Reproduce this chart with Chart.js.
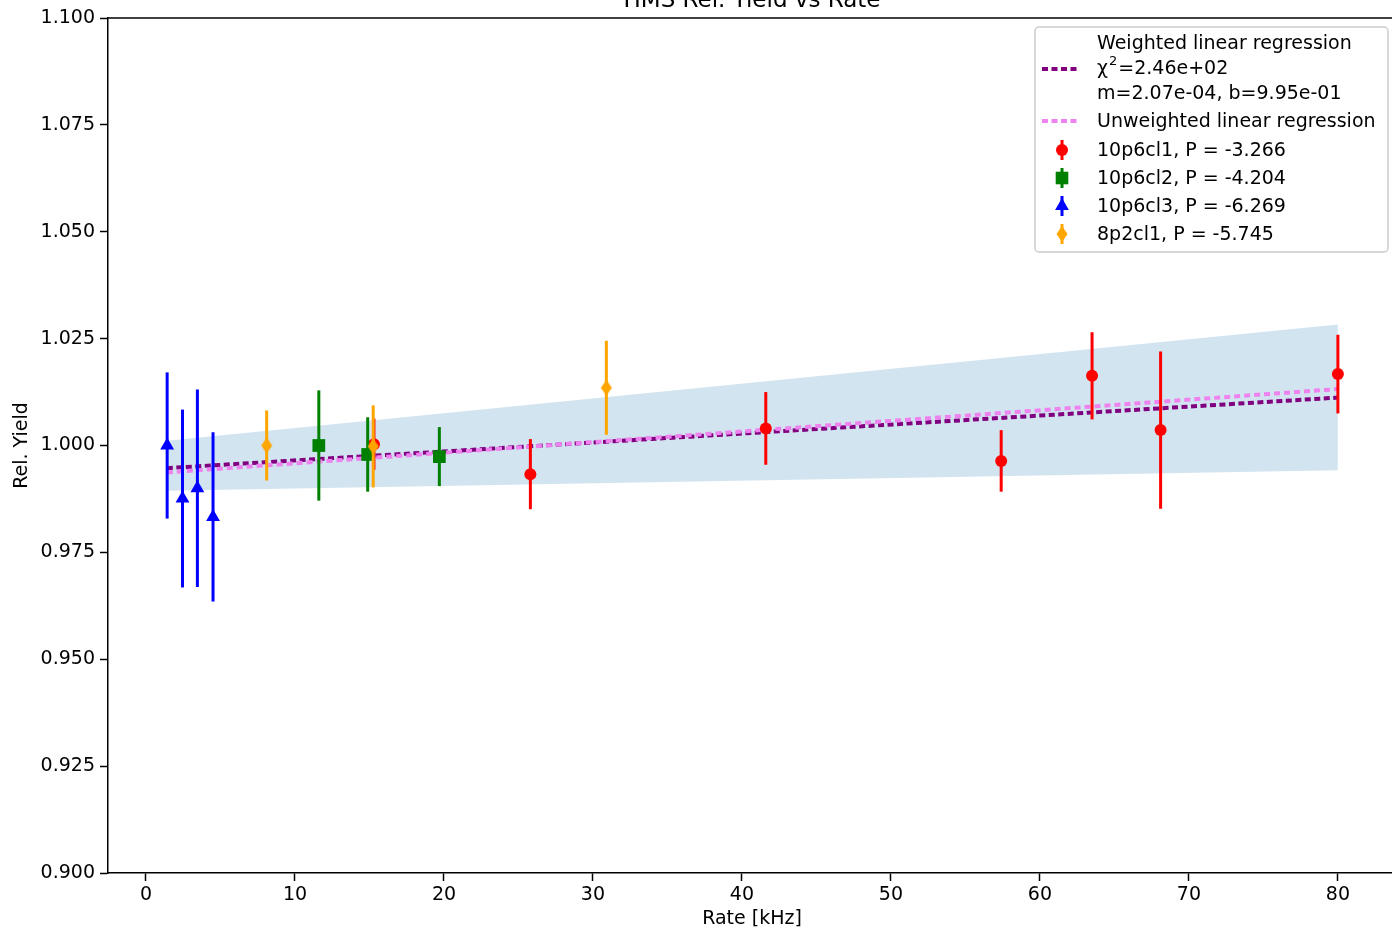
<!DOCTYPE html>
<html>
<head>
<meta charset="utf-8">
<title>HMS Rel. Yield vs Rate</title>
<script src="https://cdn.jsdelivr.net/npm/chart.js@4.4.1/dist/chart.umd.min.js"></script>
<style>
  html, body { margin: 0; padding: 0; overflow: hidden; background: #fff; }
  #wrap { width: 1392px; height: 930px; overflow: hidden; }
</style>
</head>
<body>
<div id="wrap"><canvas id="yieldChart" width="1405" height="930"></canvas></div>
<script>
// --- data ---
const rateRed = [15.3, 25.8, 41.6, 57.4, 63.5, 68.1, 80.0];
const yieldRed = [1.0003, 0.9933, 1.0040, 0.9964, 1.0163, 1.0036, 1.0167];
const errRed = [0.0060, 0.0082, 0.0085, 0.0072, 0.0102, 0.0184, 0.0092];

const rateGreen = [11.6, 14.88, 19.69];
const yieldGreen = [1.0000, 0.9979, 0.9974];
const errGreen = [0.0129, 0.0087, 0.0069];

const rateBlue = [1.42, 2.45, 3.45, 4.5];
const yieldBlue = [1.0000, 0.9876, 0.9900, 0.9833];
const errBlue = [0.0171, 0.0208, 0.0231, 0.0198];

const rateOrange = [8.1, 15.25, 30.9];
const yieldOrange = [1.0000, 0.9998, 1.0135];
const errOrange = [0.0082, 0.0096, 0.0110];

const fitRate = [1.4, 80.0];
const weightedFit = [0.9947, 1.0112];
const unweightedFit = [0.9937, 1.0132];
const bandUpper = [1.0011, 1.0283];
const bandLower = [0.9894, 0.9942];

const xTicks = [0, 10, 20, 30, 40, 50, 60, 70, 80];

const seriesLabels = ['10p6cl1, P = -3.266', '10p6cl2, P = -4.204', '10p6cl3, P = -6.269', '8p2cl1, P = -5.745'];

function pts(xs, ys) {
    return xs.map((x, i) => ({ x: x, y: ys[i] }));
}

// thin diamond marker like matplotlib 'd'
function thinDiamond(color) {
    const c = document.createElement('canvas');
    c.width = 12; c.height = 16;
    const g = c.getContext('2d');
    g.fillStyle = color;
    g.beginPath();
    g.moveTo(6, 0); g.lineTo(11.5, 8); g.lineTo(6, 16); g.lineTo(0.5, 8);
    g.closePath(); g.fill();
    return c;
}

function drawMarker(ctx, kind, x, y, color) {
    ctx.fillStyle = color;
    ctx.beginPath();
    if (kind === 'circle') {
        ctx.arc(x, y, 6, 0, Math.PI * 2);
    } else if (kind === 'rect') {
        ctx.rect(x - 6.3, y - 6.3, 12.6, 12.6);
    } else if (kind === 'triangle') {
        ctx.moveTo(x, y - 8); ctx.lineTo(x + 6.9, y + 4); ctx.lineTo(x - 6.9, y + 4);
    } else {
        ctx.moveTo(x, y - 8); ctx.lineTo(x + 5.5, y); ctx.lineTo(x, y + 8); ctx.lineTo(x - 5.5, y);
    }
    ctx.closePath();
    ctx.fill();
}

const RED = '#ff0000', GREEN = '#008000', BLUE = '#0000ff', ORANGE = '#ffa500';
const PURPLE = '#800080', VIOLET = '#ee82ee';

Chart.defaults.font.family = "'DejaVu Sans', sans-serif";
Chart.defaults.font.size = 19;
Chart.defaults.color = '#000';

// vertical error bars, drawn under each series' markers
const errorBars = {
    id: 'errorBars',
    beforeDatasetDraw(chart, args) {
        const ds = chart.data.datasets[args.index];
        if (!ds.errors) return;
        const xs = chart.scales.x, ys = chart.scales.y, ctx = chart.ctx;
        ctx.save();
        ctx.strokeStyle = ds.borderColor;
        ctx.lineWidth = 3;
        ds.data.forEach((p, i) => {
            const px = xs.getPixelForValue(p.x);
            ctx.beginPath();
            ctx.moveTo(px, ys.getPixelForValue(p.y - ds.errors[i]));
            ctx.lineTo(px, ys.getPixelForValue(p.y + ds.errors[i]));
            ctx.stroke();
        });
        ctx.restore();
    }
};

// top frame line, title, axis titles, legend
const decorations = {
    id: 'decorations',
    afterDraw(chart) {
        const ctx = chart.ctx, a = chart.chartArea;
        ctx.save();
        ctx.strokeStyle = '#000';
        ctx.lineWidth = 1.5;
        ctx.beginPath();
        ctx.moveTo(a.left, a.top);
        ctx.lineTo(a.right + 10, a.top);
        ctx.stroke();

        ctx.fillStyle = '#000';
        ctx.font = "23px 'DejaVu Sans'";
        ctx.textAlign = 'center';
        ctx.textBaseline = 'alphabetic';
        ctx.fillText('HMS Rel. Yield vs Rate', (a.left + a.right) / 2, 7);

        ctx.font = "19px 'DejaVu Sans'";
        ctx.textBaseline = 'middle';
        ctx.fillText('Rate [kHz]', (a.left + a.right) / 2, 919);
        ctx.save();
        ctx.translate(22, (a.top + a.bottom) / 2);
        ctx.rotate(-Math.PI / 2);
        ctx.fillText('Rel. Yield', 0, 0);
        ctx.restore();

        // legend box
        ctx.fillStyle = 'rgba(255,255,255,0.8)';
        ctx.strokeStyle = '#cccccc';
        ctx.lineWidth = 1.5;
        ctx.beginPath();
        ctx.roundRect(1035, 27, 353, 225, 4);
        ctx.fill();
        ctx.stroke();

        const tx = 1097;
        ctx.textAlign = 'left';
        ctx.fillStyle = '#000';
        ctx.fillText('Weighted linear regression', tx, 44);
        let cx = tx;
        ctx.fillText('\u03c7', cx, 69);
        cx += ctx.measureText('\u03c7').width + 1;
        ctx.font = "13px 'DejaVu Sans'";
        ctx.fillText('2', cx, 62);
        cx += ctx.measureText('2').width + 1;
        ctx.font = "19px 'DejaVu Sans'";
        ctx.fillText('=2.46e+02', cx, 69);
        ctx.fillText('m=2.07e-04, b=9.95e-01', tx, 94);
        ctx.fillText('Unweighted linear regression', tx, 122);

        ctx.lineWidth = 4;
        ctx.setLineDash([6, 3.5]);
        ctx.strokeStyle = PURPLE;
        ctx.beginPath(); ctx.moveTo(1042, 69); ctx.lineTo(1078, 69); ctx.stroke();
        ctx.strokeStyle = VIOLET;
        ctx.beginPath(); ctx.moveTo(1042, 121); ctx.lineTo(1078, 121); ctx.stroke();
        ctx.setLineDash([]);

        const kinds = ['circle', 'rect', 'triangle', 'diamond'];
        const cols = [RED, GREEN, BLUE, ORANGE];
        const rowY = [150, 178, 206, 234];
        kinds.forEach((k, i) => {
            ctx.strokeStyle = cols[i];
            ctx.lineWidth = 3;
            ctx.beginPath();
            ctx.moveTo(1062, rowY[i] - 10); ctx.lineTo(1062, rowY[i] + 10);
            ctx.stroke();
            drawMarker(ctx, k, 1062, rowY[i], cols[i]);
            ctx.fillStyle = '#000';
            ctx.fillText(seriesLabels[i], tx, rowY[i] + 1);
        });
        ctx.restore();
    }
};

const ctx = document.getElementById('yieldChart').getContext('2d');

const yieldChart = new Chart(ctx, {
    type: 'scatter',
    data: {
        datasets: [
            {
                type: 'line', label: 'band upper', data: pts(fitRate, bandUpper),
                borderWidth: 0, pointRadius: 0, fill: '+1',
                backgroundColor: 'rgba(31,119,180,0.2)', order: 10
            },
            {
                type: 'line', label: 'band lower', data: pts(fitRate, bandLower),
                borderWidth: 0, pointRadius: 0, fill: false, order: 9
            },
            {
                type: 'line', label: 'Weighted linear regression', data: pts(fitRate, weightedFit),
                borderColor: PURPLE, borderWidth: 4, borderDash: [6, 3.5], pointRadius: 0,
                fill: false, order: 8
            },
            {
                type: 'line', label: 'Unweighted linear regression', data: pts(fitRate, unweightedFit),
                borderColor: VIOLET, borderWidth: 4, borderDash: [6, 4], pointRadius: 0,
                fill: false, order: 7
            },
            {
                label: seriesLabels[0], data: pts(rateRed, yieldRed), errors: errRed,
                pointStyle: 'circle', pointRadius: 6, borderWidth: 0,
                backgroundColor: RED, borderColor: RED, order: 4
            },
            {
                label: seriesLabels[1], data: pts(rateGreen, yieldGreen), errors: errGreen,
                pointStyle: 'rect', pointRadius: 9, borderWidth: 0,
                backgroundColor: GREEN, borderColor: GREEN, order: 3
            },
            {
                label: seriesLabels[2], data: pts(rateBlue, yieldBlue), errors: errBlue,
                pointStyle: 'triangle', pointRadius: 8, borderWidth: 0,
                backgroundColor: BLUE, borderColor: BLUE, order: 2
            },
            {
                label: seriesLabels[3], data: pts(rateOrange, yieldOrange), errors: errOrange,
                pointStyle: thinDiamond(ORANGE), pointRadius: 8, borderWidth: 0,
                backgroundColor: ORANGE, borderColor: ORANGE, order: 1
            }
        ]
    },
    options: {
        responsive: false,
        animation: false,
        layout: { padding: { top: 18, right: 4, left: 0, bottom: 0 } },
        plugins: {
            legend: { display: false },
            tooltip: { enabled: false }
        },
        scales: {
            x: {
                type: 'linear',
                min: -2.55,
                max: 83.9,
                afterBuildTicks(scale) {
                    scale.ticks = xTicks.map(v => ({ value: v }));
                },
                afterFit(scale) { scale.height = 57; },
                grid: { drawOnChartArea: false, tickLength: 8, tickColor: '#000', tickWidth: 1.5 },
                border: { color: '#000', width: 1.5 },
                ticks: { padding: 3, maxRotation: 0, font: { size: 19 } }
            },
            y: {
                min: 0.9,
                max: 1.1,
                afterFit(scale) { scale.width = 108; },
                grid: { drawOnChartArea: false, tickLength: 8, tickColor: '#000', tickWidth: 1.5 },
                border: { color: '#000', width: 1.5 },
                ticks: {
                    stepSize: 0.025,
                    padding: 5,
                    font: { size: 19 },
                    callback: v => v.toFixed(3)
                }
            }
        }
    },
    plugins: [errorBars, decorations]
});
</script>
</body>
</html>
